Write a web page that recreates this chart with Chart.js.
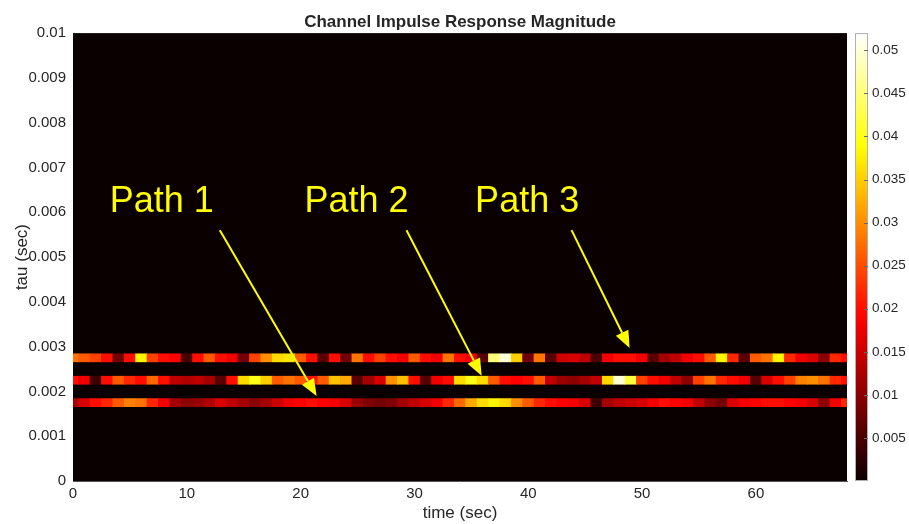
<!DOCTYPE html>
<html lang="en">
<head>
<meta charset="UTF-8">
<title>Channel Impulse Response Magnitude</title>
<script src="https://cdn.jsdelivr.net/npm/chart.js"></script>
<style>
  html, body { margin: 0; padding: 0; background: #fff; }
  #wrap { width: 909px; height: 524px; }
</style>
</head>
<body>
<div id="wrap"><canvas id="cir" width="909" height="524"></canvas></div>
<script>
// sample times (sec)
const timeSec = [0, 1, 2, 3, 4, 5, 6, 7, 8, 9, 10, 11, 12, 13, 14, 15, 16, 17, 18, 19,
  20, 21, 22, 23, 24, 25, 26, 27, 28, 29, 30, 31, 32, 33, 34, 35, 36, 37, 38, 39,
  40, 41, 42, 43, 44, 45, 46, 47, 48, 49, 50, 51, 52, 53, 54, 55, 56, 57, 58, 59,
  60, 61, 62, 63, 64, 65, 66, 67, 68];

// path delays (sec)
const pathDelays = [0.00175, 0.00225, 0.00275];

// |h(t, tau)| along each path
const path1Mag = [0.012, 0.016, 0.020, 0.022, 0.026, 0.029, 0.028, 0.022, 0.018, 0.012,
  0.010, 0.011, 0.013, 0.016, 0.014, 0.012, 0.010, 0.012, 0.015, 0.018,
  0.019, 0.020, 0.019, 0.018, 0.016, 0.011, 0.009, 0.008, 0.009, 0.012,
  0.014, 0.016, 0.018, 0.022, 0.027, 0.032, 0.036, 0.038, 0.036, 0.030,
  0.026, 0.022, 0.020, 0.019, 0.018, 0.016, 0.004, 0.012, 0.014, 0.015,
  0.016, 0.018, 0.020, 0.019, 0.018, 0.014, 0.010, 0.008, 0.016, 0.018,
  0.019, 0.020, 0.020, 0.019, 0.018, 0.016, 0.010, 0.018, 0.022];
const path2Mag = [0.020, 0.018, 0.004, 0.020, 0.026, 0.022, 0.020, 0.027, 0.020, 0.014,
  0.013, 0.014, 0.012, 0.006, 0.020, 0.036, 0.040, 0.035, 0.026, 0.028,
  0.026, 0.020, 0.026, 0.034, 0.032, 0.006, 0.012, 0.016, 0.030, 0.034,
  0.020, 0.006, 0.018, 0.020, 0.036, 0.040, 0.036, 0.026, 0.020, 0.019,
  0.020, 0.026, 0.014, 0.011, 0.010, 0.012, 0.014, 0.036, 0.050, 0.042,
  0.024, 0.020, 0.018, 0.014, 0.010, 0.024, 0.028, 0.022, 0.020, 0.018,
  0.006, 0.016, 0.020, 0.024, 0.029, 0.030, 0.028, 0.022, 0.020];
const path3Mag = [0.028, 0.026, 0.024, 0.020, 0.008, 0.020, 0.038, 0.024, 0.020, 0.019,
  0.005, 0.020, 0.026, 0.020, 0.018, 0.008, 0.024, 0.030, 0.036, 0.037,
  0.026, 0.020, 0.006, 0.020, 0.008, 0.028, 0.020, 0.024, 0.020, 0.018,
  0.026, 0.020, 0.018, 0.028, 0.020, 0.018, 0.006, 0.045, 0.050, 0.035,
  0.008, 0.028, 0.006, 0.015, 0.016, 0.014, 0.005, 0.018, 0.020, 0.020,
  0.018, 0.006, 0.012, 0.014, 0.018, 0.020, 0.026, 0.038, 0.022, 0.006,
  0.026, 0.028, 0.038, 0.022, 0.018, 0.016, 0.010, 0.022, 0.020];

const pathMags = [path1Mag, path2Mag, path3Mag];
const magMax = 0.052;
const bandHalf = 0.00009;

// text labels and arrows, in data units
const callouts = [
  { text: 'Path 1', tx: 7.8,  ty: 0.00622, from: [12.9, 0.0056], to: [21.4, 0.0019] },
  { text: 'Path 2', tx: 24.9, ty: 0.00622, from: [29.3, 0.0056], to: [35.9, 0.00235] },
  { text: 'Path 3', tx: 39.9, ty: 0.00622, from: [43.8, 0.0056], to: [48.9, 0.00297] }
];

// MATLAB-style "hot" colormap
function hot(v) {
  const t = Math.min(Math.max(v / magMax, 0), 1) * 63 + 1;
  const r = Math.min(1, t / 24);
  const g = Math.min(1, Math.max(0, (t - 24) / 24));
  const b = Math.min(1, Math.max(0, (t - 48) / 16));
  return `rgb(${Math.round(r * 255)},${Math.round(g * 255)},${Math.round(b * 255)})`;
}

const datasets = pathDelays.map((tau, i) => ({
  label: 'Path ' + (i + 1),
  data: timeSec.map(t => ({ x: t, y: [tau - bandHalf, tau + bandHalf] })),
  backgroundColor: pathMags[i].map(hot),
  borderWidth: 0,
  barPercentage: 1,
  categoryPercentage: 1,
  grouped: false
}));

const txtColor = '#262626';
const fontFam = '"Liberation Sans", Arial, sans-serif';

const plotBackground = {
  id: 'plotBackground',
  beforeDatasetsDraw(chart) {
    const { ctx, chartArea: a } = chart;
    ctx.save();
    ctx.fillStyle = hot(0);
    ctx.fillRect(a.left, a.top, a.right - a.left, a.bottom - a.top);
    ctx.restore();
  }
};

// title, centred over the plot area
const plotTitle = {
  id: 'plotTitle',
  afterDraw(chart) {
    const { ctx, chartArea: a } = chart;
    ctx.save();
    ctx.fillStyle = txtColor;
    ctx.font = 'bold 17px ' + fontFam;
    ctx.textAlign = 'center';
    ctx.textBaseline = 'alphabetic';
    ctx.fillText('Channel Impulse Response Magnitude', (a.left + a.right) / 2, a.top - 6);
    ctx.restore();
  }
};

const colorbar = {
  id: 'colorbar',
  afterDraw(chart) {
    const { ctx, chartArea: a } = chart;
    const sc = chart.scales.yc;
    const x0 = a.right + 8, w = 13;
    const yTop = sc.getPixelForValue(magMax), yBot = sc.getPixelForValue(0);
    const grad = ctx.createLinearGradient(0, yBot, 0, yTop);
    for (let k = 0; k <= 32; k++) grad.addColorStop(k / 32, hot(magMax * k / 32));
    ctx.save();
    ctx.fillStyle = grad;
    ctx.fillRect(x0, yTop, w, yBot - yTop);
    ctx.strokeStyle = '#b0b0b0';
    ctx.lineWidth = 1;
    ctx.strokeRect(x0 + 0.5, yTop + 0.5, w - 1, yBot - yTop - 1);
    ctx.strokeStyle = '#6a6a6a';
    sc.ticks.forEach(tk => {
      if (tk.value <= 0) return;
      const y = Math.round(sc.getPixelForValue(tk.value)) + 0.5;
      ctx.beginPath();
      ctx.moveTo(x0 + w - 4, y);
      ctx.lineTo(x0 + w, y);
      ctx.stroke();
    });
    ctx.restore();
  }
};

const arrows = {
  id: 'arrows',
  afterDatasetsDraw(chart) {
    const { ctx } = chart;
    const xs = chart.scales.x, ys = chart.scales.y;
    ctx.save();
    ctx.fillStyle = '#ffff00';
    ctx.strokeStyle = '#ffff00';
    ctx.lineWidth = 2;
    ctx.font = '36px ' + fontFam;
    ctx.textAlign = 'center';
    ctx.textBaseline = 'middle';
    callouts.forEach(c => {
      ctx.fillText(c.text, xs.getPixelForValue(c.tx), ys.getPixelForValue(c.ty));
      const x1 = xs.getPixelForValue(c.from[0]), y1 = ys.getPixelForValue(c.from[1]);
      const x2 = xs.getPixelForValue(c.to[0]), y2 = ys.getPixelForValue(c.to[1]);
      const ang = Math.atan2(y2 - y1, x2 - x1);
      const head = 17, half = 7;
      const bx = x2 - head * Math.cos(ang), by = y2 - head * Math.sin(ang);
      ctx.beginPath();
      ctx.moveTo(x1, y1);
      ctx.lineTo(bx, by);
      ctx.stroke();
      ctx.beginPath();
      ctx.moveTo(x2, y2);
      ctx.lineTo(bx + half * Math.sin(ang), by - half * Math.cos(ang));
      ctx.lineTo(bx - half * Math.sin(ang), by + half * Math.cos(ang));
      ctx.closePath();
      ctx.fill();
    });
    ctx.restore();
  }
};

new Chart(document.getElementById('cir'), {
  type: 'bar',
  data: { datasets },
  options: {
    responsive: false,
    animation: false,
    events: [],
    layout: { padding: { top: 30, left: 0, right: 0, bottom: 0 }, autoPadding: false },
    plugins: {
      legend: { display: false },
      tooltip: { enabled: false },
      title: { display: false }
    },
    scales: {
      x: {
        type: 'linear',
        min: 0,
        max: 68,
        offset: false,
        afterFit(s) { s.height = 43; },
        grid: { display: false, drawTicks: false },
        border: { display: true, color: '#555' },
        ticks: {
          stepSize: 10,
          includeBounds: false,
          padding: 4,
          maxRotation: 0,
          color: txtColor,
          font: { family: fontFam, size: 15 }
        },
        title: {
          display: true,
          text: 'time (sec)',
          color: txtColor,
          font: { family: fontFam, size: 17 },
          padding: { top: 0, bottom: 0.5 }
        }
      },
      y: {
        type: 'linear',
        position: 'left',
        min: 0,
        max: 0.01,
        afterFit(s) { s.width = 73; },
        grid: { display: false, drawTicks: false },
        border: { display: true, color: '#555' },
        ticks: {
          stepSize: 0.001,
          padding: 7,
          color: txtColor,
          font: { family: fontFam, size: 15 },
          callback: v => String(+v.toFixed(4))
        },
        title: {
          display: true,
          text: 'tau (sec)',
          color: txtColor,
          font: { family: fontFam, size: 17 },
          padding: { top: 12, bottom: 0 }
        }
      },
      yc: {
        type: 'linear',
        position: 'right',
        min: 0,
        max: magMax,
        afterFit(s) { s.width = 62; },
        grid: { display: false, drawTicks: false },
        border: { display: false },
        ticks: {
          stepSize: 0.005,
          includeBounds: false,
          padding: 25,
          color: txtColor,
          font: { family: fontFam, size: 13.5 },
          callback: v => (v <= 0 ? '' : String(+v.toFixed(4)))
        }
      }
    }
  },
  plugins: [plotBackground, colorbar, arrows, plotTitle]
});
</script>
</body>
</html>
